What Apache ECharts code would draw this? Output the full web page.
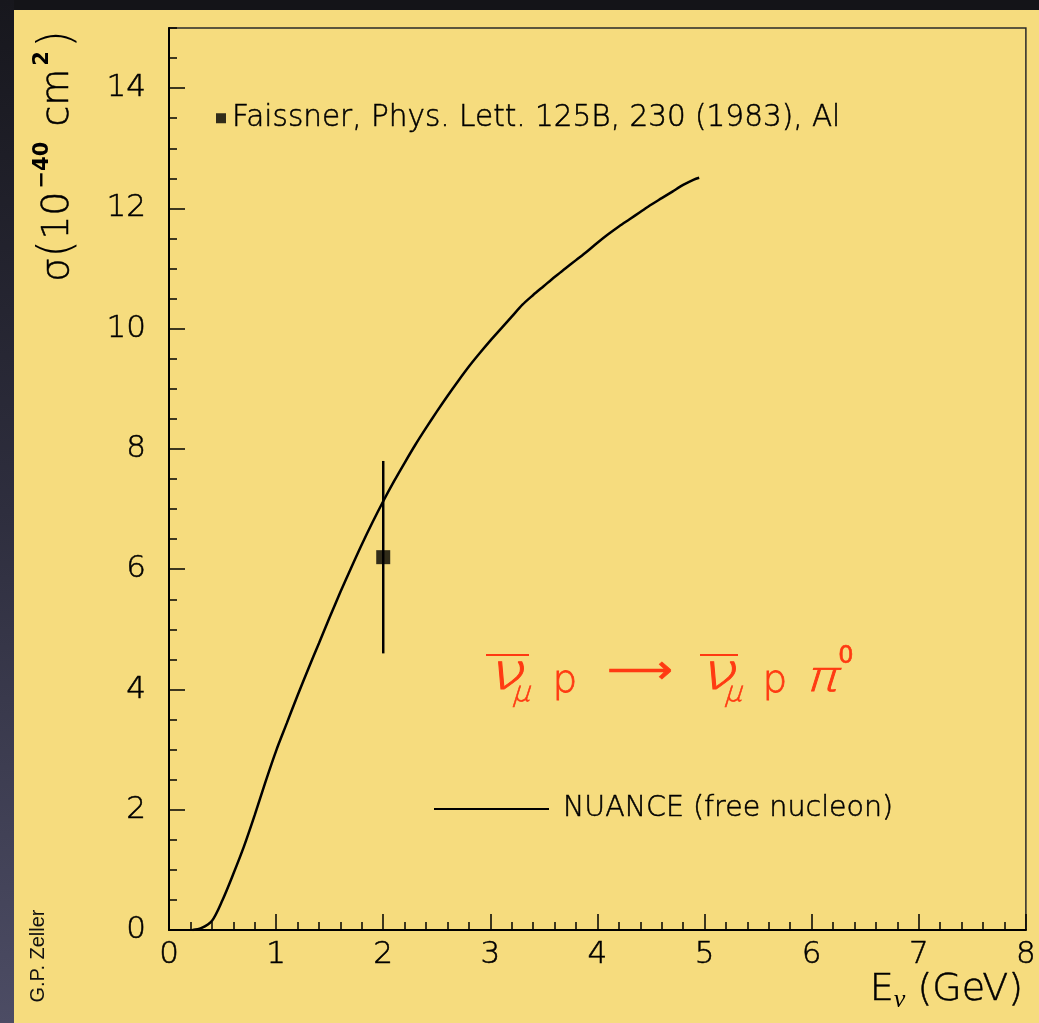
<!DOCTYPE html>
<html><head><meta charset="utf-8">
<script src="https://cdn.jsdelivr.net/npm/echarts@6/dist/echarts.min.js"></script>
<style>html,body{margin:0;padding:0;background:#f6dc7e}#c{width:1039px;height:1023px}</style>
</head><body><div id="c"></div>
<script>
// NUANCE (free nucleon) prediction, E_nu (GeV) vs sigma (1e-40 cm^2)
const curveE = [0.22,0.3,0.4,0.5,0.6,0.7,0.8,0.9,1.0,1.1,1.2,1.3,1.4,1.5,1.6,1.7,1.8,1.9,2.0,2.1,2.2,2.3,2.4,2.5,2.6,2.7,2.8,2.9,3.0,3.1,3.2,3.3,3.4,3.5,3.6,3.7,3.8,3.9,4.0,4.1,4.2,4.3,4.4,4.5,4.6,4.7,4.8,4.9,4.95];
const curveSigma = [0,0.03,0.15,0.5,0.93,1.39,1.91,2.46,2.98,3.44,3.9,4.34,4.77,5.2,5.62,6.02,6.41,6.78,7.13,7.46,7.77,8.07,8.35,8.62,8.88,9.13,9.37,9.59,9.8,10.0,10.2,10.4,10.56,10.71,10.86,11.0,11.14,11.28,11.43,11.57,11.7,11.82,11.94,12.06,12.17,12.28,12.39,12.48,12.51];
// Faissner measurement
const dataE = [2.0];
const dataSigma = [6.2];
const dataErrLow = [4.6];
const dataErrHigh = [7.8];
const lineName = 'NUANCE (free nucleon)';
const pointName = 'Faissner, Phys. Lett. 125B, 230 (1983), Al';

const FONT = 'DejaVu Sans';
const FW = 200;
const RED = '#ff3a12';
const INK = '#000';
const chart = echarts.init(document.getElementById('c'), null, {renderer: 'canvas'});

const tickStyle = {color: '#000', width: 1.5};
const thick = {textBorderColor: INK, textBorderWidth: 0.5};
const option = {
  backgroundColor: '#f6dc7e',
  animation: false,
  grid: {left: 169, top: 28, width: 858, height: 902, show: true, borderColor: '#2a2a2a', borderWidth: 1.5, backgroundColor: 'transparent'},
  xAxis: [{
    type: 'value', min: 0, max: 8, interval: 1,
    axisLine: {show: true, onZero: false, lineStyle: {color: '#000', width: 2}},
    axisTick: {show: true, inside: true, length: 16, lineStyle: tickStyle},
    minorTick: {show: true, splitNumber: 5, length: 8, lineStyle: tickStyle},
    axisLabel: Object.assign({margin: 9, fontSize: 31, color: INK, fontFamily: FONT, fontWeight: FW}, thick),
    splitLine: {show: false}, minorSplitLine: {show: false}
  }],
  yAxis: [{
    type: 'value', min: 0, max: 15, interval: 2, position: 'left',
    axisLine: {show: true, onZero: false, lineStyle: {color: '#000', width: 2}},
    axisTick: {show: true, inside: true, length: 16, lineStyle: tickStyle},
    axisLabel: Object.assign({margin: 23, fontSize: 31, color: INK, fontFamily: FONT, fontWeight: FW, showMaxLabel: false}, thick),
    splitLine: {show: false}
  }, {
    type: 'value', min: 0, max: 15, interval: 0.5, position: 'left', offset: 0,
    axisLine: {show: false},
    axisTick: {show: true, inside: true, length: 8, lineStyle: tickStyle},
    axisLabel: {show: false},
    splitLine: {show: false}
  }],
  legend: [{
    data: [{name: pointName, icon: 'rect'}], left: 216, top: 103, padding: 0,
    itemWidth: 10, itemHeight: 10,
    textStyle: Object.assign({fontSize: 29.5, color: INK, fontFamily: FONT, fontWeight: FW, lineHeight: 30, padding: [0, 0, 0, 1]}, thick),
    selectedMode: false
  }, {
    data: [{name: lineName, icon: 'rect'}], left: 434, top: 794, padding: 0,
    itemWidth: 115, itemHeight: 2,
    textStyle: Object.assign({fontSize: 28.5, color: INK, fontFamily: FONT, fontWeight: FW, lineHeight: 30, padding: [0, 0, 0, 9]}, thick),
    selectedMode: false
  }],
  series: [{
    name: lineName, type: 'line', xAxisIndex: 0, yAxisIndex: 0,
    data: curveE.map((e, i) => [e, curveSigma[i]]),
    smooth: 0.3, symbol: 'none', showSymbol: false,
    lineStyle: {color: '#000', width: 2.5}, itemStyle: {color: '#000'}, z: 3
  }, {
    name: 'err', type: 'custom', xAxisIndex: 0, yAxisIndex: 0,
    data: dataE.map((e, i) => [e, dataErrLow[i], dataErrHigh[i]]),
    encode: {x: 0, y: [1, 2]},
    renderItem: function (params, api) {
      const a = api.coord([api.value(0), api.value(1)]);
      const b = api.coord([api.value(0), api.value(2)]);
      return {type: 'line', shape: {x1: a[0], y1: a[1], x2: b[0], y2: b[1]}, style: {stroke: '#000', lineWidth: 2.5}};
    }, z: 4
  }, {
    name: pointName, type: 'scatter', xAxisIndex: 0, yAxisIndex: 0,
    data: dataE.map((e, i) => [e, dataSigma[i]]),
    symbol: 'rect', symbolSize: 14, itemStyle: {color: '#000'}, z: 5
  }],
  graphic: [
    {type: 'rect', shape: {x: 0, y: 0, width: 1039, height: 10}, style: {fill: '#141418'}, z: 100, silent: true},
    {type: 'rect', shape: {x: 0, y: 0, width: 14, height: 1023}, style: {fill: new echarts.graphic.LinearGradient(0, 0, 0, 1, [{offset: 0, color: '#17171d'}, {offset: 0.5, color: '#2e2e3e'}, {offset: 1, color: '#4c4c64'}])}, z: 100, silent: true},
    {type: 'text', x: 58, y: 156, rotation: Math.PI / 2, z: 100, silent: true,
      style: {text: '{n|σ}{p|(}{n|10}{sup|−40}{n| cm}{sup|2}{p|)}', align: 'center', verticalAlign: 'middle', fill: INK,
        rich: {n: {fontSize: 38, fontFamily: FONT, fontWeight: FW, fill: INK, lineHeight: 52, stroke: INK, lineWidth: 0.5},
               p: {fontSize: 46, fontFamily: FONT, fontWeight: FW, fill: INK, lineHeight: 52},
               sup: {fontSize: 21, fontFamily: FONT, fontWeight: 'bold', fill: INK, verticalAlign: 'top', lineHeight: 52, padding: [0, 3, 0, 3]}}}},
    {type: 'text', x: 1023, y: 990, z: 100, silent: true,
      style: {text: '{n|E}{sub|ν}{n| (GeV)}', align: 'right', verticalAlign: 'middle', fill: INK,
        rich: {n: {fontSize: 38, fontFamily: FONT, fontWeight: FW, fill: INK, lineHeight: 46, stroke: INK, lineWidth: 0.5},
               sub: {fontSize: 26, fontFamily: 'Liberation Serif', fontStyle: 'italic', fill: INK, verticalAlign: 'bottom', lineHeight: 46}}}},
    {type: 'text', x: 38, y: 956, rotation: Math.PI / 2, z: 100, silent: true,
      style: {text: 'G.P. Zeller', align: 'center', verticalAlign: 'middle', fill: '#111', fontSize: 20, fontFamily: 'Liberation Sans'}},
    // reaction annotation
    {type: 'text', x: 508, y: 676, scaleX: 1.3, skewX: -0.3, z: 100, silent: true, style: {text: 'ν', align: 'center', verticalAlign: 'middle', fill: RED, fontSize: 50, fontFamily: FONT, fontWeight: FW, stroke: RED, lineWidth: 0.8}},
    {type: 'text', x: 523, y: 694, skewX: -0.3, z: 100, silent: true, style: {text: 'μ', align: 'center', verticalAlign: 'middle', fill: RED, fontSize: 28, fontFamily: FONT, fontWeight: FW, stroke: RED, lineWidth: 0.6}},
    {type: 'text', x: 565, y: 682, z: 100, silent: true, style: {text: 'p', align: 'center', verticalAlign: 'middle', fill: RED, fontSize: 39, fontFamily: FONT, fontWeight: FW, stroke: RED, lineWidth: 0.8}},
    {type: 'text', x: 640, y: 673, scaleX: 1.15, z: 100, silent: true, style: {text: '⟶', align: 'center', verticalAlign: 'middle', fill: RED, fontSize: 40, fontFamily: FONT, fontWeight: FW, stroke: RED, lineWidth: 0.6}},
    {type: 'text', x: 720, y: 676, scaleX: 1.3, skewX: -0.3, z: 100, silent: true, style: {text: 'ν', align: 'center', verticalAlign: 'middle', fill: RED, fontSize: 50, fontFamily: FONT, fontWeight: FW, stroke: RED, lineWidth: 0.8}},
    {type: 'text', x: 735, y: 694, skewX: -0.3, z: 100, silent: true, style: {text: 'μ', align: 'center', verticalAlign: 'middle', fill: RED, fontSize: 28, fontFamily: FONT, fontWeight: FW, stroke: RED, lineWidth: 0.6}},
    {type: 'text', x: 775, y: 682, z: 100, silent: true, style: {text: 'p', align: 'center', verticalAlign: 'middle', fill: RED, fontSize: 39, fontFamily: FONT, fontWeight: FW, stroke: RED, lineWidth: 0.8}},
    {type: 'text', x: 824, y: 680, scaleX: 1.25, skewX: -0.3, z: 100, silent: true, style: {text: 'π', align: 'center', verticalAlign: 'middle', fill: RED, fontSize: 42, fontFamily: FONT, fontWeight: FW, stroke: RED, lineWidth: 0.8}},
    {type: 'text', x: 846, y: 657, z: 100, silent: true, style: {text: '0', align: 'center', verticalAlign: 'middle', fill: RED, fontSize: 24, fontFamily: FONT, stroke: RED, lineWidth: 0.6}},
    {type: 'line', z: 100, silent: true, shape: {x1: 486, y1: 655, x2: 529, y2: 655}, style: {stroke: RED, lineWidth: 2}},
    {type: 'line', z: 100, silent: true, shape: {x1: 700, y1: 655, x2: 738, y2: 655}, style: {stroke: RED, lineWidth: 2}}
  ]
};
chart.setOption(option);
</script>
</body></html>
